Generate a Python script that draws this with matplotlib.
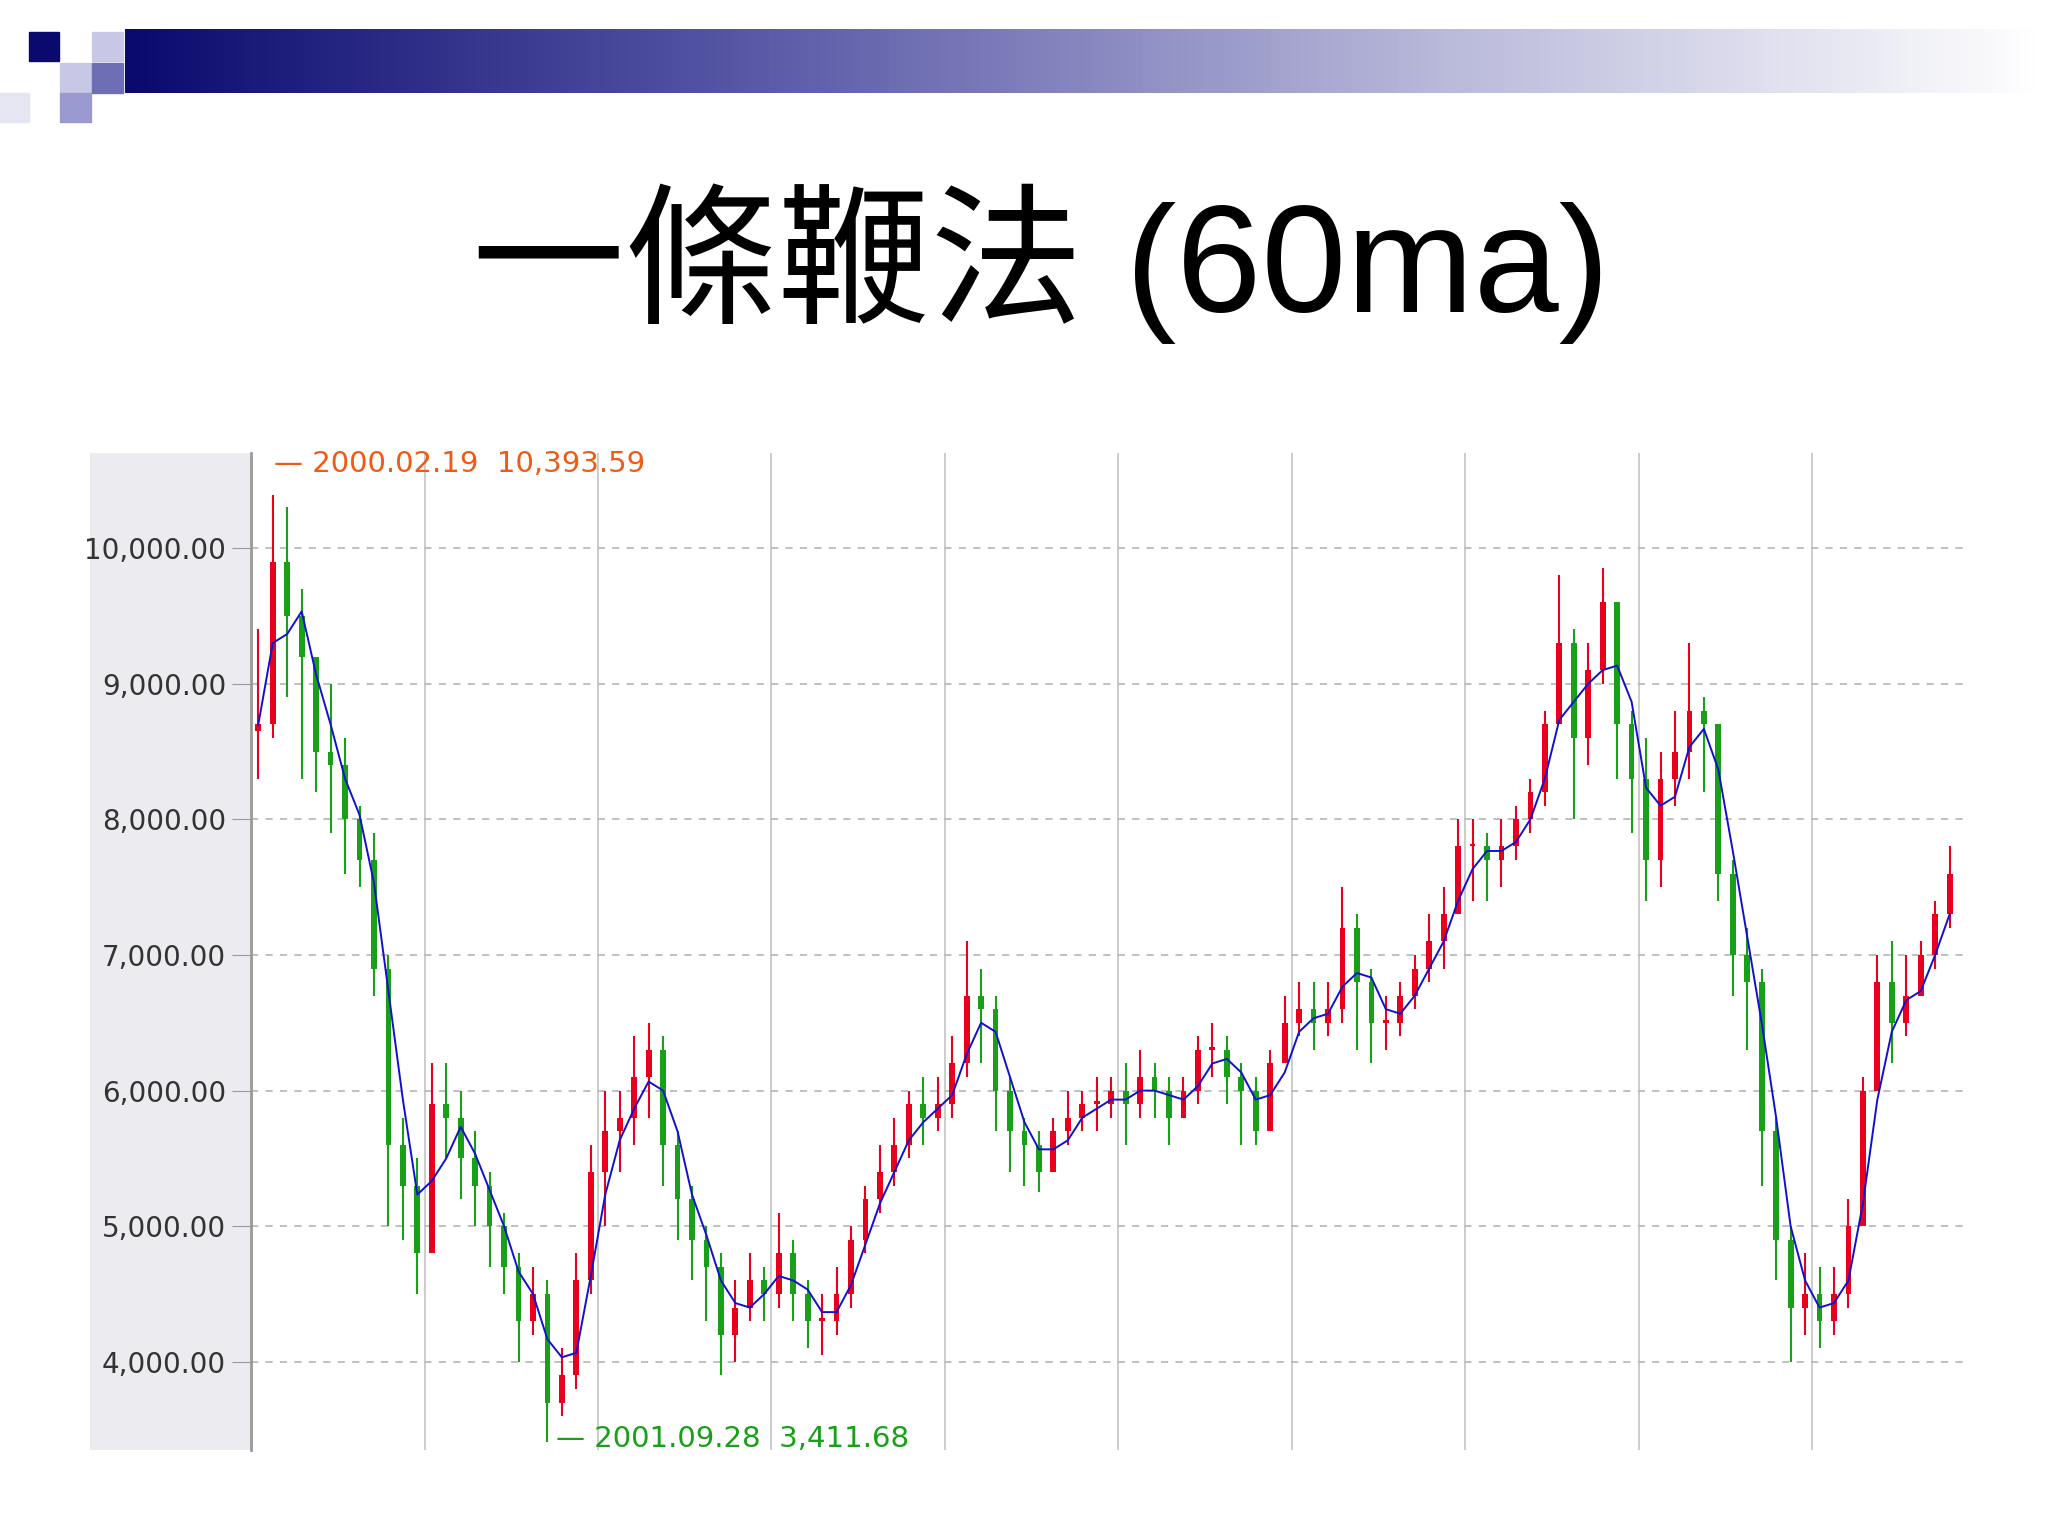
import numpy as np
import pandas as pd
import matplotlib.pyplot as plt
from matplotlib.patches import Rectangle
from matplotlib.colors import LinearSegmentedColormap

plt.rcParams['font.family'] = ['Noto Sans CJK TC', 'DejaVu Sans']

# monthly candles, Jan 2000 .. Oct 2009
closes = [8700, 9900, 9500, 9200, 8500, 8400, 8000, 7700, 6900, 5600, 5300, 4800,
          5900, 5800, 5500, 5300, 5000, 4700, 4300, 4500, 3700, 3900, 4600, 5400,
          5700, 5800, 6100, 6300, 5600, 5200, 4900, 4700, 4200, 4400, 4600, 4500,
          4800, 4500, 4300, 4300, 4500, 4900, 5200, 5400, 5600, 5900, 5800, 5900,
          6200, 6700, 6600, 6000, 5700, 5600, 5400, 5700, 5800, 5900, 5900, 6000,
          5900, 6100, 6000, 5800, 6000, 6300, 6300, 6100, 6000, 5700, 6200, 6500,
          6600, 6500, 6600, 7200, 6800, 6500, 6500, 6700, 6900, 7100, 7300, 7800,
          7800, 7700, 7800, 8000, 8200, 8700, 9300, 8600, 9100, 9600, 8700, 8300,
          7700, 8300, 8500, 8800, 8700, 7600, 7000, 6800, 5700, 4900, 4400, 4500,
          4300, 4500, 5000, 6000, 6800, 6500, 6700, 7000, 7300, 7600]
opens = [8650] + closes[:-1]
highs = [9400, 10394, 10300, 9700, 9200, 9000, 8600, 8100, 7900, 7000, 5800, 5500,
         6200, 6200, 6000, 5700, 5400, 5100, 4800, 4700, 4600, 4100, 4800, 5600,
         6000, 6000, 6400, 6500, 6400, 5700, 5300, 5000, 4800, 4600, 4800, 4700,
         5100, 4900, 4600, 4500, 4700, 5000, 5300, 5600, 5800, 6000, 6100, 6100,
         6400, 7100, 6900, 6700, 6100, 5800, 5700, 5800, 6000, 6000, 6100, 6100,
         6200, 6300, 6200, 6100, 6100, 6400, 6500, 6400, 6200, 6100, 6300, 6700,
         6800, 6800, 6800, 7500, 7300, 6900, 6700, 6800, 7000, 7300, 7500, 8000,
         8000, 7900, 8000, 8100, 8300, 8800, 9800, 9400, 9300, 9850, 9600, 8800,
         8600, 8500, 8800, 9300, 8900, 8700, 7700, 7200, 6900, 5800, 5000, 4800,
         4700, 4700, 5200, 6100, 7000, 7100, 7000, 7100, 7400, 7800]
lows = [8300, 8600, 8900, 8300, 8200, 7900, 7600, 7500, 6700, 5000, 4900, 4500,
        4800, 5500, 5200, 5000, 4700, 4500, 4000, 4200, 3412, 3600, 3800, 4500,
        5000, 5400, 5600, 5800, 5300, 4900, 4600, 4300, 3900, 4000, 4300, 4300,
        4400, 4300, 4100, 4050, 4200, 4400, 4800, 5100, 5300, 5500, 5600, 5700,
        5800, 6100, 6200, 5700, 5400, 5300, 5250, 5400, 5600, 5700, 5700, 5800,
        5600, 5800, 5800, 5600, 5800, 5900, 6100, 5900, 5600, 5600, 5800, 6200,
        6400, 6300, 6400, 6500, 6300, 6200, 6300, 6400, 6600, 6800, 6900, 7300,
        7400, 7400, 7500, 7700, 7900, 8100, 8700, 8000, 8400, 9000, 8300, 7900,
        7400, 7500, 8100, 8300, 8200, 7400, 6700, 6300, 5300, 4600, 4000, 4200,
        4100, 4200, 4400, 5000, 6000, 6200, 6400, 6700, 6900, 7200]
yticks = [4000, 5000, 6000, 7000, 8000, 9000, 10000]

n = len(closes)
x = 2000 + (np.arange(n) + 0.5) / 12
ma = pd.Series(closes).rolling(3, min_periods=1).mean()

fig = plt.figure(figsize=(20.48, 15.36), dpi=100)
fig.patch.set_facecolor('white')

# header bar
cmap = LinearSegmentedColormap.from_list('hdr', ['#0a0a6e', '#5a5aa8', '#b4b4d8', '#ffffff'])
hax = fig.add_axes([0.061, 0.9397, 0.936, 0.0414])
hax.imshow(np.linspace(0, 1, 256)[None, :], aspect='auto', cmap=cmap)
hax.axis('off')
for (l, b, w, h, c) in [(0.014, 0.9603, 0.015, 0.0190, '#0a0a6e'),
                        (0.0295, 0.9397, 0.015, 0.0190, '#c8c8e6'),
                        (0.0450, 0.9603, 0.015, 0.0190, '#c8c8e6'),
                        (0.0295, 0.9207, 0.015, 0.0190, '#9a9ad0'),
                        (0.0450, 0.9397, 0.015, 0.0190, '#6e6eb4'),
                        (0.0000, 0.9207, 0.014, 0.0190, '#e6e6f2')]:
    fig.patches.append(Rectangle((l, b), w, h, transform=fig.transFigure, color=c, zorder=3))

fig.text(0.508, 0.828, '一條鞭法 (60ma)', ha='center', va='center', fontsize=110,
         color='black', family=['Liberation Sans', 'Noto Sans CJK TC'])

# gray panel for y labels
pax = fig.add_axes([0.044, 0.056, 0.079, 0.649], zorder=-1)
pax.set_facecolor('#ececf0')
pax.set_xticks([]); pax.set_yticks([])
for s in pax.spines.values():
    s.set_visible(False)

ax = fig.add_axes([0.1226, 0.056, 0.836, 0.649])
ax.patch.set_alpha(0)
ax.set_xlim(2000, 2009.87)
ax.set_ylim(3350, 10700)

for yr in range(2001, 2010):
    ax.axvline(yr, color='#c8c8c8', lw=1.3, zorder=0)
for t in yticks:
    ax.axhline(t, color='#bbbbbb', lw=1.3, ls=(0, (4, 4)), zorder=0)

w = 0.4 / 12
for i in range(n):
    up = closes[i] >= opens[i]
    col = '#e8001c' if up else '#18a018'
    ax.vlines(x[i], lows[i], highs[i], color=col, lw=1.5, zorder=2)
    ax.bar(x[i], abs(closes[i] - opens[i]) or 20, bottom=min(opens[i], closes[i]),
           width=w, color=col, zorder=2)
ax.plot(x, ma, color='#1010d0', lw=1.4, zorder=3)

ax.set_yticks(yticks)
ax.set_yticklabels([f'{t:,.2f}' for t in yticks], fontsize=20, color='#333333',
                   family='DejaVu Sans')
ax.tick_params(axis='y', length=14, color='#999999', pad=4)
ax.set_xticks([])
for s in ['top', 'right', 'bottom']:
    ax.spines[s].set_visible(False)
ax.spines['left'].set_color('#999999')
ax.spines['left'].set_linewidth(2)

ax.text(2000.13, 10620, '— 2000.02.19  10,393.59', color='#f05a14', fontsize=21,
        va='center', family='DejaVu Sans')
ax.text(2001.76, 3430, '— 2001.09.28  3,411.68', color='#18a018', fontsize=21,
        va='center', family='DejaVu Sans')

fig.savefig('out.png', dpi=100)
